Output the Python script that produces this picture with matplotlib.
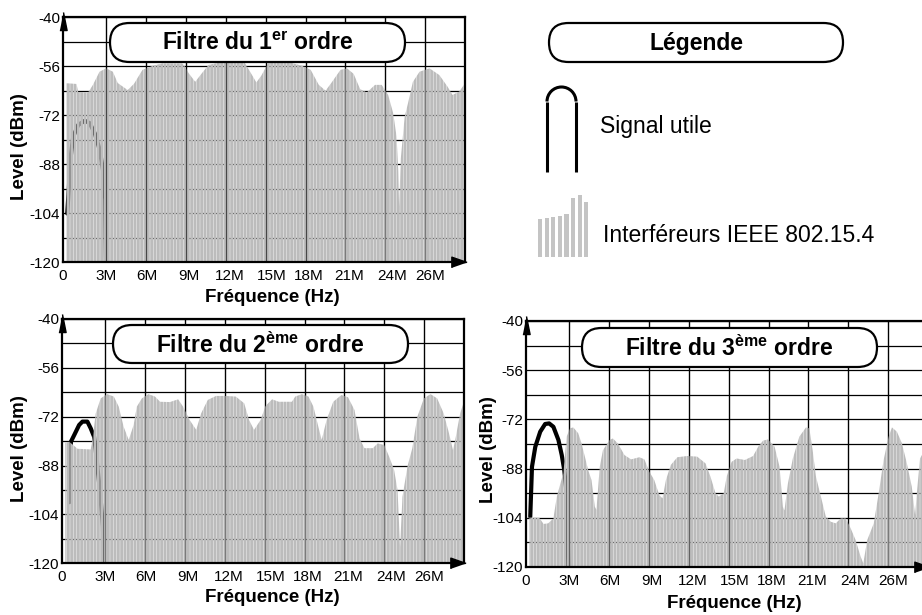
import matplotlib
matplotlib.use('Agg')
import matplotlib.pyplot as plt
from matplotlib.patches import FancyBboxPatch, Arc

plt.rcParams['font.family'] = 'Liberation Sans'
plt.rcParams['mathtext.fontset'] = 'custom'
plt.rcParams['mathtext.rm'] = 'Liberation Sans'
plt.rcParams['mathtext.bf'] = 'Liberation Sans:bold'
plt.rcParams['axes.unicode_minus'] = False
plt.rcParams['hatch.linewidth'] = 2.1

W, H = 922, 615

# vertical gridlines every 3 MHz; the labels sit slightly off the lines
x_grid = [3, 6, 9, 12, 15, 18, 21, 24, 27]
x_label_pos = [-0.25, 3, 6.05, 9.2, 12.3, 15.45, 18.25, 21.25, 24.5, 27.35]
x_labels = ['0', '3M', '6M', '9M', '12M', '15M', '18M', '21M', '24M', '26M']
y_ticks = [-40, -56, -72, -88, -104, -120]
y_minor = [-48, -64, -80, -96, -112]

# interferer envelopes (MHz, dBm)
env1_f = [0.0, 0.15, 0.77, 0.89, 1.64, 2.0, 2.5, 3.0, 3.5, 3.87, 4.62, 5.1, 5.73, 6.48, 7.22,
          8.71, 8.84, 9.21, 9.7, 10.2, 10.7, 11.44, 13.43, 13.68, 14.3, 14.67, 15.17, 15.41,
          16.9, 17.77, 18.39, 19.0, 19.51, 20.0, 20.63, 21.12, 21.62, 22.11, 22.61, 23.23,
          23.73, 24.22, 24.6, 24.85, 24.98, 25.04, 25.17, 25.46, 25.71, 26.08, 26.58, 27.33,
          28.07, 28.69, 29.06, 29.56, 30.0]
env1_db = [-61.5, -61.5, -61.7, -64.3, -64.5, -62, -57.7, -56.6, -57.7, -61.4, -63.7, -61.6,
           -57.1, -55.8, -55, -55, -55.5, -58.2, -61, -58.2, -55.5, -54.8, -54.8, -56.6, -61.2,
           -59, -55, -54.8, -54.8, -55.8, -57.1, -62, -63.9, -61, -57.1, -56.6, -58.4, -63.4,
           -64.5, -62, -62, -65.3, -71.3, -78.9, -90, -101.7, -86, -72.4, -68, -61, -57.7,
           -56.6, -58.8, -62.6, -65.3, -64.2, -61.5]

env2_f = [0, 0.3, 0.92, 1.91, 2.03, 2.29, 2.66, 3.15, 3.65, 4.02, 4.39, 4.77, 5.14, 5.38,
          5.76, 6.25, 6.75, 7.13, 7.87, 8.49, 8.86, 9.36, 9.85, 10.22, 10.72, 11.34, 12.09,
          12.83, 13.46, 13.83, 14.2, 14.69, 15.06, 15.56, 16.06, 17.05, 17.3, 17.8, 18.3,
          18.67, 19.04, 19.29, 19.66, 20.16, 20.77, 21.27, 21.76, 22.14, 22.51, 23.14, 23.51,
          24.0, 24.37, 24.74, 25.0, 25.19, 25.37, 25.74, 26.11, 26.49, 26.98, 27.48, 27.98,
          28.47, 28.84, 29.17, 29.34, 29.71, 30.0]
env2_db = [-80.5, -80.2, -82.5, -82.7, -80, -70.9, -66, -64.6, -65.4, -68.7, -75.3, -79.6,
           -74.7, -68.7, -66, -64.6, -65.4, -67.1, -67.2, -66.3, -68.7, -73.1, -76.3, -70.9,
           -66.5, -65.2, -65.2, -65.4, -67.6, -73.1, -76.3, -73.1, -68.5, -66.3, -67.1, -67.1,
           -65.4, -64.6, -65.4, -68.7, -75.3, -79.6, -73.1, -67.1, -64.9, -65.6, -69.8, -79.1,
           -82.3, -82.3, -80.7, -81.3, -85.1, -89.4, -96, -114.6, -98.2, -88.4, -82.3, -72,
           -66, -64.6, -66, -70.9, -76.9, -82.9, -79.6, -70.9, -67]

env3_f = [0, 0.75, 1.07, 1.42, 1.81, 2.07, 2.31, 2.56, 2.81, 3.06, 3.31, 3.68, 3.93, 4.18,
          4.43, 4.68, 4.93, 5.05, 5.3, 5.54, 6.04, 6.29, 6.66, 7.16, 7.66, 8.28, 8.66, 9.03,
          9.4, 9.78, 10.02, 10.28, 10.65, 11.14, 11.89, 12.63, 13.26, 13.63, 14.01, 14.25,
          14.63, 14.85, 15.22, 15.6, 16.22, 16.84, 17.22, 17.59, 17.96, 18.46, 18.83, 19.08,
          19.2, 19.46, 19.83, 20.32, 20.82, 21.07, 21.32, 21.57, 21.94, 22.31, 22.69, 23.06,
          23.43, 23.81, 24.18, 24.55, 24.93, 25.13, 25.43, 25.92, 26.29, 26.66, 27.04, 27.29,
          27.66, 28.04, 28.41, 28.78, 29.03, 29.16, 29.4, 30.0]
env3_db = [-103.9, -104, -106, -105.8, -104.2, -97.1, -93.3, -89.5, -77.6, -74.9, -74.6, -76.5,
           -79.8, -84.1, -88.5, -91.7, -100.4, -101.4, -87.4, -82, -78.7, -78.2, -79.8, -83.6,
           -85, -84.3, -85, -89, -91.7, -96.6, -97.7, -91.7, -86.8, -84.3, -83.9, -84.1, -86.3,
           -90.6, -96, -97.1, -96, -90.6, -85.8, -84.7, -85.2, -83.9, -80.9, -78.9, -78.5,
           -80.9, -87.4, -100.4, -101.6, -92.8, -84.7, -77.6, -74.6, -74.9, -82, -90.6, -97.1,
           -103.6, -105.3, -105.8, -104.2, -104.2, -107.4, -111.2, -116.6, -118.8, -111.2,
           -105.8, -96, -85.2, -77.6, -74.6, -76, -79.8, -86.3, -93.9, -103.1, -96, -84.7, -80]

# useful signal (MHz, dBm)
sig1_f = [0.07, 0.2, 0.27, 0.52, 0.89, 1.39, 1.76, 2.14, 2.51, 2.76, 2.93, 2.98]
sig1_db = [-104, -95, -87.6, -78.9, -75.1, -73.7, -74.5, -77.8, -83.2, -89.8, -99.5, -120]
sig2_f = [0.3, 0.37, 0.42, 0.67, 1.04, 1.29, 1.66, 1.91, 2.16, 2.29, 2.41, 2.6, 2.83, 2.9]
sig2_db = [-100, -88, -80.2, -78, -74.7, -73.6, -73.6, -75.8, -78.5, -82.9, -88.4, -96, -108, -120]
sig3_f = [0.07, 0.2, 0.45, 0.82, 1.19, 1.49, 1.81, 2.19, 2.44, 2.63, 2.76, 2.87, 2.93]
sig3_db = [-103.6, -87.4, -80.9, -76, -73.5, -73.3, -74.4, -78.7, -83.6, -88.5, -94, -104, -120]

titles = [r'Filtre du 1$^{\mathbf{er}}$ ordre',
          r'Filtre du 2$^{\mathbf{ème}}$ ordre',
          r'Filtre du 3$^{\mathbf{ème}}$ ordre']

legend_bar_tops = [219, 218, 217, 216, 214, 198, 195, 202]

fig = plt.figure(figsize=(W / 100, H / 100), dpi=100)


def panel(left, top, right, bottom, env_f, env_db, sig_f, sig_db):
    ax = fig.add_axes([left / W, 1 - bottom / H, (right - left) / W, (bottom - top) / H])
    ax.set_xlim(0, 30)
    ax.set_ylim(-120, -40)
    ax.xaxis.remove_overlapping_locs = False
    ax.set_xticks(x_label_pos, x_labels)
    ax.set_xticks(x_grid, minor=True)
    ax.set_yticks(y_ticks)
    ax.set_yticks(y_minor, minor=True)
    ax.tick_params(which='both', length=0, labelsize=11)
    ax.tick_params(axis='x', pad=5)
    ax.tick_params(axis='y', pad=2)
    ax.set_axisbelow(True)
    ax.grid(True, axis='y', which='both', color='k', lw=0.9)
    ax.grid(True, axis='x', which='minor', color='k', lw=0.9)
    ax.plot(sig_f, sig_db, color='k', lw=3, zorder=0.8, solid_capstyle='round')
    ax.fill_between(env_f, env_db, -120, facecolor='none', edgecolor='#bcbcbc',
                    hatch='|||||', linewidth=0, zorder=1)
    ax.vlines(x_grid, -120, -40, colors='k', alpha=0.35, lw=1, zorder=2)
    for s in ax.spines.values():
        s.set_linewidth(1.6)
    ax.plot([0], [0.985], marker=[(-0.4, -1), (0.4, -1), (0, 1)], ms=13, color='k',
            transform=ax.transAxes, clip_on=False, zorder=5)
    ax.plot([0.985], [0], marker=[(-1, -0.7), (-1, 0.7), (1, 0)], ms=11, color='k',
            transform=ax.transAxes, clip_on=False, zorder=5)
    return ax


panel(63, 17.5, 465, 262.5, env1_f, env1_db, sig1_f, sig1_db)
panel(62, 319, 464, 563.3, env2_f, env2_db, sig2_f, sig2_db)
panel(526, 321, 928, 567, env3_f, env3_db, sig3_f, sig3_db)

# axis titles
for (x, y) in [(20, 147), (20, 449), (488, 450)]:
    fig.text(x / W, 1 - y / H, 'Level (dBm)', rotation=90, ha='center', va='center',
             fontsize=13.5, fontweight='bold')
for (x, y) in [(272, 297), (272, 598), (734, 603)]:
    fig.text(x / W, 1 - y / H, 'Fréquence (Hz)', ha='center', va='center',
             fontsize=13.5, fontweight='bold')

# overlay in pixel units for title boxes and legend
ov = fig.add_axes([0, 0, 1, 1])
ov.set_xlim(0, W)
ov.set_ylim(H, 0)
ov.axis('off')

boxes = [(110, 23, 405, 62), (113, 325, 408, 363), (582, 328, 877, 367), (549, 23, 843, 62)]
labels = titles + ['Légende']
for (x0, y0, x1, y1), lab in zip(boxes, labels):
    ov.add_patch(FancyBboxPatch((x0, y0), x1 - x0, y1 - y0,
                                boxstyle=f'round,pad=0,rounding_size={(y1 - y0) / 2}',
                                fc='white', ec='k', lw=1.6, zorder=3))
    ov.text((x0 + x1) / 2, (y0 + y1) / 2 + 1, lab, ha='center', va='center',
            fontsize=16.5, fontweight='bold', zorder=4)

# legend: useful signal glyph
ov.add_patch(Arc((561.5, 101.5), 29, 29, theta1=180, theta2=360, color='k', lw=2.2))
ov.plot([547, 547], [101.5, 172], color='k', lw=2.2, solid_capstyle='butt')
ov.plot([576, 576], [101.5, 172], color='k', lw=2.2, solid_capstyle='butt')
ov.text(600, 127, 'Signal utile', ha='left', va='center', fontsize=16.5)

# legend: interferer glyph
bar_x = [540 + 6.6 * i for i in range(len(legend_bar_tops))]
ov.bar(bar_x, [t - 257 for t in legend_bar_tops], bottom=257, width=4.2,
       color='#c4c4c4', lw=0)
ov.text(603, 235, 'Interféreurs IEEE 802.15.4', ha='left', va='center', fontsize=16.5)

fig.savefig('out.png', dpi=100)
